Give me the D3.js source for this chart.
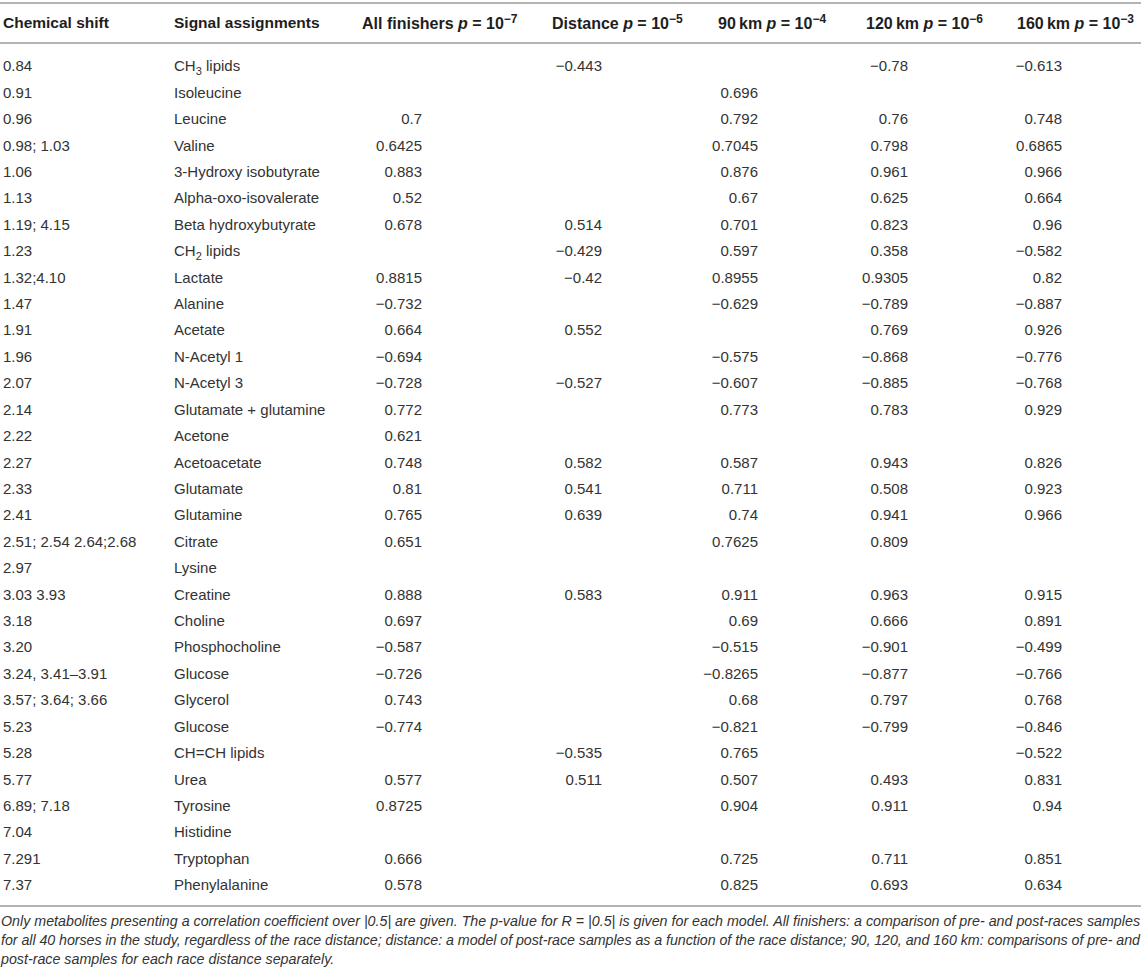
<!DOCTYPE html>
<html>
<head>
<meta charset="utf-8">
<script src="https://cdn.jsdelivr.net/npm/d3@7"></script>
<style>
  body { margin: 0; background: #fff; }
  svg text { font-family: 'Liberation Sans', Arial, Helvetica, sans-serif; }
</style>
</head>
<body>
<svg id="table"></svg>
<script>
// table contents
const shifts = ['0.84', '0.91', '0.96', '0.98; 1.03', '1.06', '1.13', '1.19; 4.15', '1.23', '1.32;4.10', '1.47',
    '1.91', '1.96', '2.07', '2.14', '2.22', '2.27', '2.33', '2.41', '2.51; 2.54 2.64;2.68', '2.97',
    '3.03 3.93', '3.18', '3.20', '3.24, 3.41\u20133.91', '3.57; 3.64; 3.66', '5.23', '5.28', '5.77', '6.89; 7.18', '7.04',
    '7.291', '7.37'];
const assignments = ['CH_3 lipids', 'Isoleucine', 'Leucine', 'Valine', '3-Hydroxy isobutyrate', 'Alpha-oxo-isovalerate',
    'Beta hydroxybutyrate', 'CH_2 lipids', 'Lactate', 'Alanine', 'Acetate', 'N-Acetyl 1', 'N-Acetyl 3',
    'Glutamate + glutamine', 'Acetone', 'Acetoacetate', 'Glutamate', 'Glutamine', 'Citrate', 'Lysine', 'Creatine',
    'Choline', 'Phosphocholine', 'Glucose', 'Glycerol', 'Glucose', 'CH=CH lipids', 'Urea', 'Tyrosine', 'Histidine',
    'Tryptophan', 'Phenylalanine'];
const allFinishers = [null, null, 0.7, 0.6425, 0.883, 0.52, 0.678, null, 0.8815, -0.732, 0.664, -0.694, -0.728, 0.772,
    0.621, 0.748, 0.81, 0.765, 0.651, null, 0.888, 0.697, -0.587, -0.726, 0.743, -0.774, null, 0.577, 0.8725, null,
    0.666, 0.578];
const distance = [-0.443, null, null, null, null, null, 0.514, -0.429, -0.42, null, 0.552, null, -0.527, null,
    null, 0.582, 0.541, 0.639, null, null, 0.583, null, null, null, null, null, -0.535, 0.511, null, null,
    null, null];
const km90 = [null, 0.696, 0.792, 0.7045, 0.876, 0.67, 0.701, 0.597, 0.8955, -0.629, null, -0.575, -0.607, 0.773,
    null, 0.587, 0.711, 0.74, 0.7625, null, 0.911, 0.69, -0.515, -0.8265, 0.68, -0.821, 0.765, 0.507, 0.904, null,
    0.725, 0.825];
const km120 = [-0.78, null, 0.76, 0.798, 0.961, 0.625, 0.823, 0.358, 0.9305, -0.789, 0.769, -0.868, -0.885, 0.783,
    null, 0.943, 0.508, 0.941, 0.809, null, 0.963, 0.666, -0.901, -0.877, 0.797, -0.799, null, 0.493, 0.911, null,
    0.711, 0.693];
const km160 = [-0.613, null, 0.748, 0.6865, 0.966, 0.664, 0.96, -0.582, 0.82, -0.887, 0.926, -0.776, -0.768, 0.929,
    null, 0.826, 0.923, 0.966, null, null, 0.915, 0.891, -0.499, -0.766, 0.768, -0.846, -0.522, 0.831, 0.94, null,
    0.851, 0.634];

const modelNames = ['All finishers', 'Distance', '90\u2009km', '120\u2009km', '160\u2009km'];
const modelExponents = ['\u22127', '\u22125', '\u22124', '\u22126', '\u22123'];
const modelSeries = [allFinishers, distance, km90, km120, km160];

const footnote = [
    'Only metabolites presenting a correlation coefficient over |0.5| are given. The p-value for R = |0.5| is given for each model. All finishers: a comparison of pre- and post-races samples',
    'for all 40 horses in the study, regardless of the race distance; distance: a model of post-race samples as a function of the race distance; 90, 120, and 160 km: comparisons of pre- and',
    'post-race samples for each race distance separately.'
];

const width = 1144;
const height = 974;
const tableRight = 1141;

const svg = d3.select('#table')
    .attr('width', width)
    .attr('height', height);

const headKeys = ['shift', 'assign'].concat(modelNames);
const xHead = d3.scaleOrdinal()
    .domain(headKeys)
    .range([3, 174, 362, 552, 718, 866, 1017]);
const xValue = d3.scaleOrdinal()
    .domain(modelNames)
    .range([422, 602, 758, 908, 1062]);
const yRow = d3.scaleBand()
    .domain(d3.range(shifts.length))
    .range([52.8, 898.2]);
const rowY = i => yRow(i) + yRow.bandwidth() / 2;

const fmt = v => v == null ? '' : String(v).replace('-', '\u2212');

// rules
[3, 43, 906].forEach(y => {
    svg.append('line')
        .attr('x1', 0).attr('x2', tableRight)
        .attr('y1', y).attr('y2', y)
        .attr('stroke', '#b4b4b4')
        .attr('stroke-width', 2);
});

// header
const head = svg.append('g')
    .attr('font-weight', 'bold')
    .attr('font-size', 15.5)
    .attr('fill', '#1e1e1e');

head.append('text')
    .attr('x', xHead('shift')).attr('y', 23).attr('dy', '0.35em')
    .text('Chemical shift');
head.append('text')
    .attr('x', xHead('assign')).attr('y', 23).attr('dy', '0.35em')
    .text('Signal assignments');

modelNames.forEach((name, i) => {
    const t = head.append('text')
        .attr('x', xHead(name)).attr('y', 23).attr('dy', '0.35em')
        .attr('font-size', 16);
    t.append('tspan').text(name + ' ');
    t.append('tspan').attr('font-style', 'italic').text('p');
    t.append('tspan').text(' = 10');
    t.append('tspan')
        .attr('font-size', 12)
        .attr('dy', -6)
        .text(modelExponents[i]);
});

// body
const body = svg.append('g')
    .attr('font-size', 15)
    .attr('fill', '#333');

body.selectAll('text.shift').data(shifts)
    .enter().append('text')
        .attr('class', 'shift')
        .attr('x', xHead('shift'))
        .attr('y', (d, i) => rowY(i))
        .attr('dy', '0.35em')
        .text(d => d);

body.selectAll('text.assign').data(assignments)
    .enter().append('text')
        .attr('class', 'assign')
        .attr('x', xHead('assign'))
        .attr('y', (d, i) => rowY(i))
        .attr('dy', '0.35em')
        .each(function(d) {
            const el = d3.select(this);
            const m = d.match(/^(.*?)_(\d)(.*)$/);
            if (m) {
                el.append('tspan').text(m[1]);
                el.append('tspan').attr('font-size', 11).attr('dy', 4).text(m[2]);
                el.append('tspan').attr('dy', -4).text(m[3]);
            } else {
                el.text(d);
            }
        });

modelNames.forEach((name, c) => {
    body.selectAll('text.m' + c).data(modelSeries[c])
        .enter().append('text')
            .attr('class', 'm' + c)
            .attr('x', xValue(name))
            .attr('y', (d, i) => rowY(i))
            .attr('dy', '0.35em')
            .attr('text-anchor', 'end')
            .text(d => fmt(d));
});

// footnote, sized so the first line fills the table width
const foot = svg.append('g')
    .attr('font-style', 'italic')
    .attr('font-size', 14)
    .attr('fill', '#333');

const lines = foot.selectAll('text').data(footnote)
    .enter().append('text')
        .attr('x', 1)
        .attr('y', (d, i) => 921 + i * 19)
        .attr('dy', '0.35em')
        .text(d => d);

const w0 = lines.nodes()[0].getComputedTextLength();
foot.attr('font-size', 14 * (tableRight - 2) / w0);
lines.filter((d, i) => i < 2)
    .attr('textLength', tableRight - 2)
    .attr('lengthAdjust', 'spacing');
</script>
</body>
</html>
